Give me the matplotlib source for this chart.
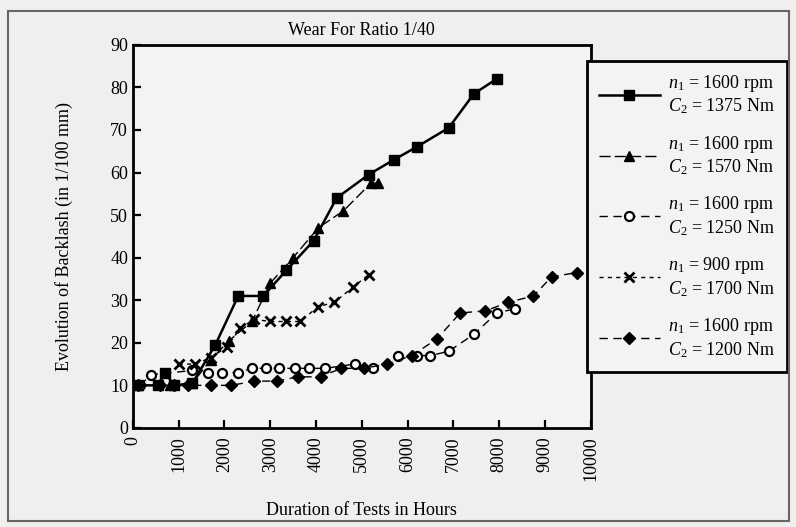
import matplotlib.pyplot as plt
from matplotlib.patches import Rectangle

plt.rcParams['font.family'] = ['Liberation Serif', 'DejaVu Serif']
plt.rcParams['mathtext.fontset'] = 'custom'
plt.rcParams['mathtext.rm'] = 'Liberation Serif'
plt.rcParams['mathtext.it'] = 'Liberation Serif:italic'

# data
x_1375 = [100, 550, 700, 900, 1300, 1800, 2300, 2850, 3350, 3950, 4450, 5150, 5700, 6200, 6900, 7450, 7950]
y_1375 = [10, 10, 13, 10, 10.5, 19.5, 31, 31, 37, 44, 54, 59.5, 63, 66, 70.5, 78.5, 82]

x_1570 = [100, 800, 1300, 1700, 2100, 2600, 3000, 3500, 4050, 4600, 5200, 5350]
y_1570 = [10, 10, 10.5, 16, 20.5, 25, 34, 40, 47, 51, 57.5, 57.5]

x_1250 = [150, 400, 1300, 1650, 1950, 2300, 2600, 2900, 3200, 3550, 3850, 4200, 4850, 5250,
          5800, 6200, 6500, 6900, 7450, 7950, 8350]
y_1250 = [10, 12.5, 13.5, 13, 13, 13, 14, 14, 14, 14, 14, 14, 15, 14,
          17, 17, 17, 18, 22, 27, 28]

x_1700 = [1000, 1350, 1700, 2050, 2350, 2650, 3000, 3350, 3650, 4050, 4400, 4800, 5150]
y_1700 = [15, 15, 16.5, 19, 23.5, 25.5, 25, 25, 25, 28.5, 29.5, 33, 36]

x_1200 = [100, 600, 900, 1200, 1700, 2150, 2650, 3150, 3600, 4100, 4550, 5050, 5550,
          6100, 6650, 7150, 7700, 8200, 8750, 9150, 9700]
y_1200 = [10, 10, 10, 10, 10, 10, 11, 11, 12, 12, 14, 14, 15,
          17, 21, 27, 27.5, 29.5, 31, 35.5, 36.5]

labels = [r"$n_1$ = 1600 rpm" + "\n" + r"$C_2$ = 1375 Nm",
          r"$n_1$ = 1600 rpm" + "\n" + r"$C_2$ = 1570 Nm",
          r"$n_1$ = 1600 rpm" + "\n" + r"$C_2$ = 1250 Nm",
          r"$n_1$ = 900 rpm" + "\n" + r"$C_2$ = 1700 Nm",
          r"$n_1$ = 1600 rpm" + "\n" + r"$C_2$ = 1200 Nm"]

bg = '#efefed'
fig = plt.figure(figsize=(7.96, 5.27), dpi=100, facecolor=bg)
fig.patches.append(Rectangle((8/796, 6/527), 781/796, 510/527, transform=fig.transFigure,
                             fill=False, edgecolor='#666666', lw=1.5))

ax = fig.add_axes([0.167, 0.188, 0.575, 0.727])
ax.set_facecolor('#f3f3f1')

ax.plot(x_1375, y_1375, '-', color='black', lw=1.8, marker='s', ms=7, label=labels[0])
ax.plot(x_1570, y_1570, color='black', lw=1, ls=(0, (8, 3)), marker='^', ms=7, label=labels[1])
ax.plot(x_1250, y_1250, color='black', lw=1, ls=(0, (6, 4)), marker='o', ms=6.5,
        mfc='white', mew=1.6, label=labels[2])
ax.plot(x_1700, y_1700, color='black', lw=1, ls=(0, (3, 3)), marker='x', ms=7.5,
        mew=2, label=labels[3])
ax.plot(x_1200, y_1200, color='black', lw=1, ls=(0, (6, 4)), marker='D', ms=6, label=labels[4])

ax.set_xlim(0, 10000)
ax.set_ylim(0, 90)
ax.set_xticks(range(0, 10001, 1000))
ax.set_yticks(range(0, 91, 10))
ax.tick_params(direction='in', length=6, width=1.6, labelsize=13, colors='black')
ax.tick_params(axis='x', labelrotation=90, pad=6)
for lab in ax.get_xticklabels():
    lab.set_verticalalignment('top')
for s in ax.spines.values():
    s.set_linewidth(2)

ax.set_title('Wear For Ratio 1/40', fontsize=13, pad=7)
ax.set_xlabel('Duration of Tests in Hours', fontsize=13, labelpad=15)
ax.set_ylabel('Evolution of Backlash (in 1/100 mm)', fontsize=13, labelpad=27)

leg = ax.legend(loc='upper left', bbox_to_anchor=(587/796, 1 - 61/527), bbox_transform=fig.transFigure,
                fontsize=13, frameon=True, fancybox=False, numpoints=1, handlelength=3.4,
                labelspacing=0.95, borderpad=0.65, handletextpad=0.45, borderaxespad=0)
fr = leg.get_frame()
fr.set_edgecolor('black')
fr.set_linewidth(2)
fr.set_facecolor('#f3f3f1')
fr.set_alpha(1)

fig.savefig('out.png', dpi=100, facecolor=bg)
